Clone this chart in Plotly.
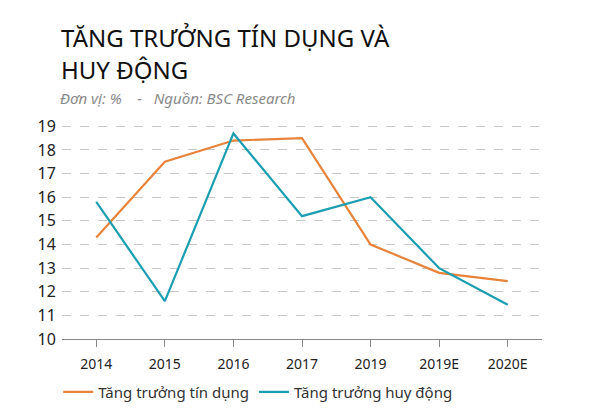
import plotly.graph_objects as go

categories = ["2014", "2015", "2016", "2017", "2019", "2019E", "2020E"]
credit_growth = [14.3, 17.5, 18.4, 18.5, 14.0, 12.8, 12.45]
deposit_growth = [15.8, 11.6, 18.7, 15.2, 16.0, 13.0, 11.45]
y_ticks = [10, 11, 12, 13, 14, 15, 16, 17, 18, 19]

ORANGE = "#E8833A"
TEAL = "#1C9EB1"
FONT = "Noto Sans"

fig = go.Figure()
fig.add_trace(go.Scatter(x=categories, y=credit_growth, mode="lines",
                         name="Tăng trưởng tín dụng",
                         line=dict(color=ORANGE, width=2.2)))
fig.add_trace(go.Scatter(x=categories, y=deposit_growth, mode="lines",
                         name="Tăng trưởng huy động",
                         line=dict(color=TEAL, width=2.2)))

L, R, T, B = 62, 58, 124, 72
H = 411 - T - B

def py(p):
    return (411 - B - p) / H

fig.update_layout(
    width=600, height=411,
    margin=dict(l=L, r=R, t=T, b=B, autoexpand=False),
    paper_bgcolor="white", plot_bgcolor="white",
    font=dict(family=FONT, color="#222"),
    showlegend=True,
    legend=dict(orientation="h", xref="container", yref="container",
                x=0.097, y=0.046, xanchor="left", yanchor="middle",
                font=dict(size=15, color="#333"), itemwidth=30,
                traceorder="normal"),
    xaxis=dict(type="category", range=[-0.5, 6.5], showgrid=False,
               showline=True, linecolor="#888", linewidth=1,
               ticks="outside", ticklen=7, tickcolor="#888",
               ticklabelstandoff=5,
               tickfont=dict(size=14, color="#222"), fixedrange=True),
    yaxis=dict(range=[10, 19.1], tickvals=y_ticks, showgrid=True,
               gridcolor="#c8c8c8", griddash="dash", gridwidth=1,
               zeroline=False, showline=False,
               ticks="outside", ticklen=2, tickcolor="rgba(0,0,0,0)",
               tickfont=dict(size=16, color="#222"), fixedrange=True),
    annotations=[
        dict(text="TĂNG TRƯỞNG TÍN DỤNG VÀ", xref="paper", yref="paper",
             x=(59 - L) / (600 - L - R), y=py(37), xanchor="left", yanchor="middle",
             showarrow=False, font=dict(size=24, color="#111", family=FONT)),
        dict(text="HUY ĐỘNG", xref="paper", yref="paper",
             x=(59 - L) / (600 - L - R), y=py(69), xanchor="left", yanchor="middle",
             showarrow=False, font=dict(size=24, color="#111", family=FONT)),
        dict(text="<i>Đơn vị: %&nbsp;&nbsp;&nbsp;&nbsp;-&nbsp;&nbsp;&nbsp;Nguồn: BSC Research</i>",
             xref="paper", yref="paper",
             x=(58 - L) / (600 - L - R), y=py(98), xanchor="left", yanchor="middle",
             showarrow=False, font=dict(size=15, color="#8a8a8a", family=FONT)),
    ],
)

fig.write_html("out.html")
